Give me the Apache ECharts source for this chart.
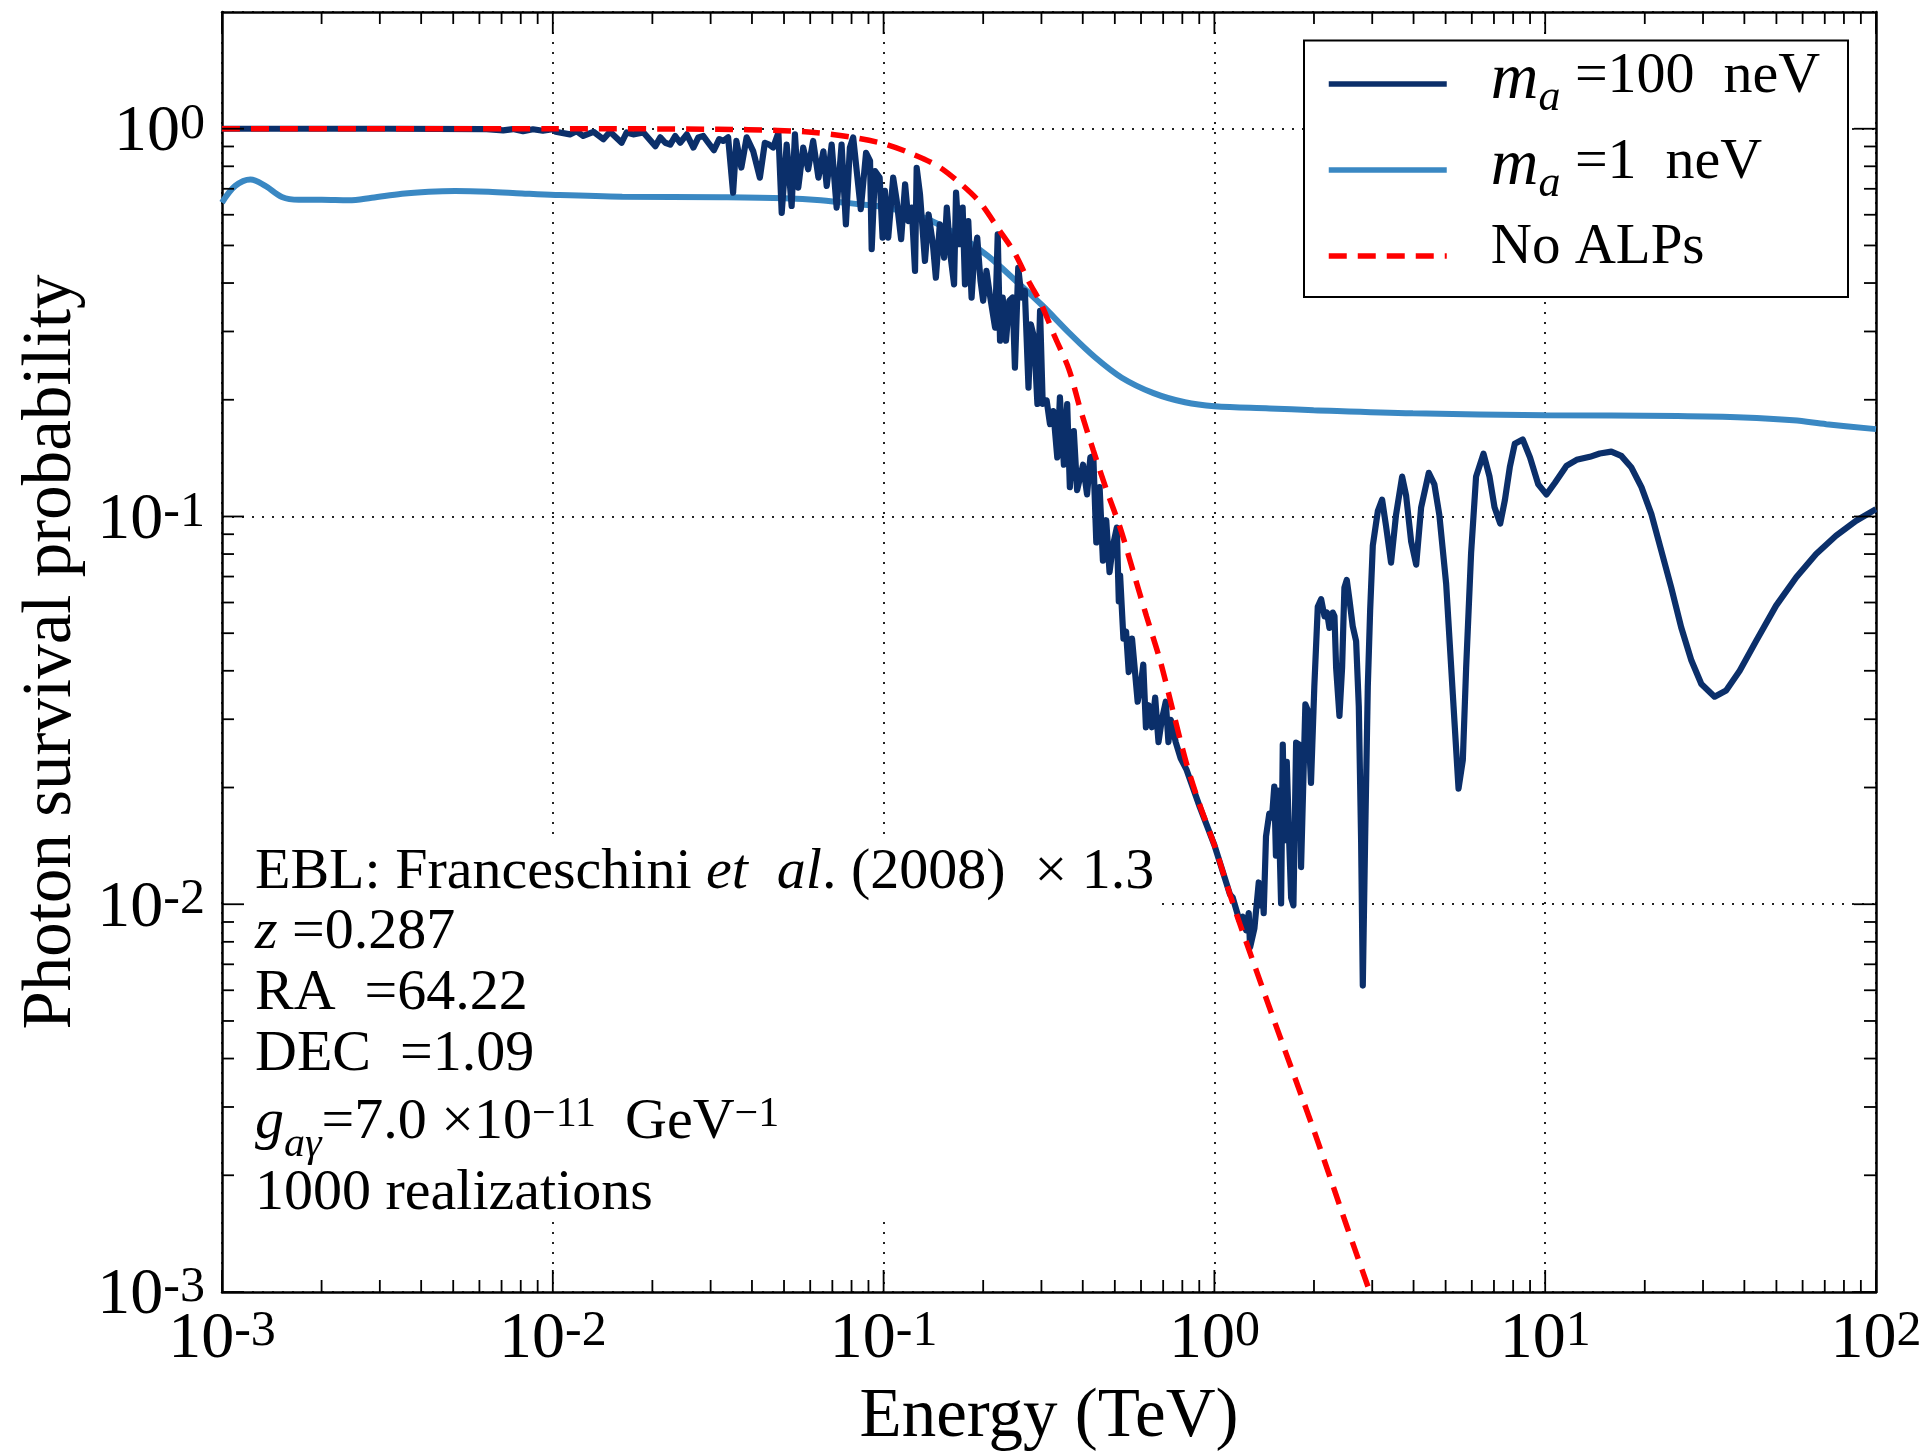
<!DOCTYPE html>
<html>
<head>
<meta charset="utf-8">
<script src="https://cdn.jsdelivr.net/npm/echarts@6/dist/echarts.min.js"></script>
<style>
  html, body { margin: 0; padding: 0; background: #fff; }
  #chart { width: 1925px; height: 1451px; }
</style>
</head>
<body>
<div id="chart"></div>
<script>
// Photon survival probability versus energy.
// Each point is [log10(E / TeV), probability].

const curve100neV = [
  [-3.0, 1.0], [-2.5, 1.0], [-2.2, 0.998], [-2.15, 0.99], [-2.12, 0.998], [-2.09, 0.985],
  [-2.06, 0.997], [-2.03, 0.988], [-2.0, 0.997], [-1.9915, 0.982], [-1.948, 0.967], [-1.928, 0.985],
  [-1.908, 0.958], [-1.877, 0.982], [-1.847, 0.939], [-1.827, 0.982], [-1.792, 0.92], [-1.777, 0.978],
  [-1.757, 0.967], [-1.726, 0.978], [-1.69, 0.902], [-1.675, 0.95], [-1.66, 0.92], [-1.645, 0.91],
  [-1.63, 0.958], [-1.615, 0.92], [-1.595, 0.967], [-1.575, 0.894], [-1.56, 0.95], [-1.545, 0.958],
  [-1.53, 0.92], [-1.513, 0.88], [-1.497, 0.94], [-1.485, 0.93], [-1.47, 0.95], [-1.455, 0.684],
  [-1.445, 0.93], [-1.43, 0.794], [-1.414, 0.95], [-1.394, 0.874], [-1.374, 0.748], [-1.359, 0.92],
  [-1.346, 0.91], [-1.334, 0.894], [-1.318, 0.976], [-1.308, 0.607], [-1.293, 0.91], [-1.278, 0.632],
  [-1.268, 0.967], [-1.258, 0.705], [-1.243, 0.894], [-1.228, 0.786], [-1.213, 0.93], [-1.197, 0.748],
  [-1.182, 0.874], [-1.172, 0.712], [-1.157, 0.91], [-1.142, 0.626], [-1.127, 0.91], [-1.114, 0.567],
  [-1.102, 0.894], [-1.092, 0.95], [-1.069, 0.62], [-1.053, 0.867], [-1.041, 0.826], [-1.036, 0.489],
  [-1.026, 0.778], [-1.012, 0.748], [-1.003, 0.524], [-0.996, 0.691], [-0.986, 0.524], [-0.971, 0.748],
  [-0.961, 0.658], [-0.947, 0.519], [-0.935, 0.719], [-0.925, 0.578], [-0.915, 0.626], [-0.905, 0.43],
  [-0.9, 0.793], [-0.89, 0.678], [-0.875, 0.456], [-0.864, 0.601], [-0.851, 0.504], [-0.842, 0.413],
  [-0.83, 0.567], [-0.817, 0.465], [-0.809, 0.626], [-0.797, 0.465], [-0.787, 0.397], [-0.781, 0.684],
  [-0.771, 0.504], [-0.761, 0.626], [-0.754, 0.397], [-0.744, 0.578], [-0.734, 0.367], [-0.727, 0.456],
  [-0.717, 0.524], [-0.707, 0.405], [-0.699, 0.36], [-0.689, 0.43], [-0.679, 0.374], [-0.663, 0.307],
  [-0.655, 0.534], [-0.648, 0.284], [-0.64, 0.367], [-0.63, 0.284], [-0.62, 0.36], [-0.61, 0.367],
  [-0.603, 0.242], [-0.593, 0.438], [-0.583, 0.367], [-0.573, 0.382], [-0.562, 0.215], [-0.555, 0.313],
  [-0.545, 0.289], [-0.535, 0.195], [-0.527, 0.339], [-0.519, 0.195], [-0.507, 0.199], [-0.497, 0.173],
  [-0.487, 0.187], [-0.475, 0.142], [-0.467, 0.203], [-0.455, 0.136], [-0.445, 0.195], [-0.437, 0.119],
  [-0.425, 0.166], [-0.415, 0.117], [-0.397, 0.136], [-0.385, 0.114], [-0.375, 0.142], [-0.366, 0.143],
  [-0.357, 0.0857], [-0.347, 0.119], [-0.337, 0.0769], [-0.327, 0.0978], [-0.317, 0.0719], [-0.307, 0.0839],
  [-0.295, 0.0936], [-0.289, 0.0604], [-0.285, 0.0704], [-0.275, 0.0484], [-0.267, 0.0505], [-0.259, 0.0397],
  [-0.249, 0.0484], [-0.242, 0.0415], [-0.232, 0.0333], [-0.222, 0.0371], [-0.215, 0.0415], [-0.207, 0.0286],
  [-0.199, 0.0326], [-0.189, 0.0286], [-0.179, 0.0341], [-0.169, 0.0262], [-0.159, 0.0299], [-0.147, 0.0333],
  [-0.139, 0.0262], [-0.132, 0.0299], [-0.117, 0.0262], [-0.102, 0.0238], [-0.084, 0.0222], [-0.044, 0.0178],
  [0.0, 0.0142], [0.047, 0.0106], [0.0554, 0.0104], [0.0756, 0.00908], [0.0857, 0.00928], [0.0958, 0.00857],
  [0.1038, 0.00949], [0.1079, 0.00774], [0.121, 0.00867], [0.134, 0.01138], [0.139, 0.00993], [0.144, 0.01125],
  [0.149, 0.00949], [0.156, 0.01496], [0.166, 0.01714], [0.174, 0.01675], [0.181, 0.0201], [0.186, 0.01335],
  [0.1915, 0.01963], [0.1966, 0.01462], [0.2016, 0.01005], [0.2067, 0.02582], [0.2117, 0.01462], [0.2188, 0.02328],
  [0.2248, 0.01565], [0.2319, 0.0104], [0.2389, 0.00993], [0.247, 0.0261], [0.257, 0.0258], [0.262, 0.01247],
  [0.275, 0.03276], [0.282, 0.03166], [0.292, 0.02056], [0.302, 0.0363], [0.3125, 0.0585], [0.3226, 0.0612],
  [0.3327, 0.0553], [0.3407, 0.0565], [0.3478, 0.0516], [0.3579, 0.0565], [0.363, 0.0553], [0.368, 0.0407],
  [0.378, 0.0306], [0.386, 0.0407], [0.393, 0.0655], [0.4002, 0.0686], [0.408, 0.0612], [0.418, 0.0522],
  [0.4284, 0.0477], [0.4365, 0.0324], [0.4435, 0.0146], [0.4486, 0.00617], [0.4556, 0.0146], [0.4637, 0.0363],
  [0.4708, 0.0572], [0.4788, 0.0841], [0.494, 0.1032], [0.507, 0.1105], [0.519, 0.0943], [0.534, 0.076],
  [0.549, 0.1009], [0.5675, 0.1267], [0.5796, 0.1131], [0.5948, 0.0861], [0.61, 0.0751], [0.625, 0.1056],
  [0.648, 0.1296], [0.665, 0.121], [0.68, 0.1009], [0.7006, 0.067], [0.7208, 0.0347], [0.738, 0.01987],
  [0.751, 0.02355], [0.761, 0.0407], [0.776, 0.0804], [0.791, 0.1267], [0.8135, 0.1452], [0.8317, 0.1267],
  [0.8468, 0.1056], [0.864, 0.0959], [0.878, 0.11], [0.893, 0.134], [0.908, 0.154], [0.932, 0.158],
  [0.954, 0.142], [0.979, 0.121], [1.004, 0.114], [1.029, 0.122], [1.064, 0.135], [1.095, 0.14],
  [1.135, 0.1425], [1.165, 0.1453], [1.2, 0.147], [1.23, 0.1433], [1.26, 0.134], [1.291, 0.119],
  [1.321, 0.1014], [1.351, 0.0816], [1.381, 0.0656], [1.411, 0.0518], [1.442, 0.0425], [1.472, 0.037],
  [1.512, 0.0343], [1.547, 0.0356], [1.588, 0.04], [1.638, 0.0478], [1.698, 0.0589], [1.759, 0.0697],
  [1.819, 0.08], [1.879, 0.0892], [1.94, 0.0975], [2.0, 0.1045]
];

const curve1neV = [
  [-3.0, 0.645], [-2.96, 0.712], [-2.914, 0.74], [-2.869, 0.712], [-2.819, 0.667], [-2.768, 0.656],
  [-2.698, 0.656], [-2.617, 0.654], [-2.547, 0.664], [-2.456, 0.68], [-2.375, 0.688], [-2.295, 0.691],
  [-2.194, 0.688], [-2.093, 0.681], [-1.992, 0.675], [-1.79, 0.668], [-1.49, 0.666], [-1.3, 0.662],
  [-1.19, 0.654], [-1.07, 0.638], [-1.0, 0.628], [-0.89, 0.595], [-0.78, 0.535], [-0.685, 0.47],
  [-0.6, 0.405], [-0.52, 0.35], [-0.44, 0.298], [-0.36, 0.257], [-0.28, 0.228], [-0.184, 0.208],
  [-0.089, 0.197], [0.0, 0.1925], [0.167, 0.19], [0.3, 0.188], [0.6, 0.1845], [1.0, 0.1825],
  [1.4, 0.1815], [1.6, 0.18], [1.75, 0.177], [1.85, 0.173], [2.0, 0.168]
];

const curveNoALPs = [
  [-3.0, 1.0], [-2.0, 1.0], [-1.5, 0.997], [-1.32, 0.99], [-1.21, 0.978], [-1.1, 0.952],
  [-1.0, 0.915], [-0.919, 0.865], [-0.835, 0.8], [-0.766, 0.72], [-0.709, 0.646], [-0.652, 0.55],
  [-0.605, 0.48], [-0.56, 0.402], [-0.524, 0.354], [-0.484, 0.293], [-0.44, 0.24], [-0.406, 0.19],
  [-0.366, 0.148], [-0.326, 0.117], [-0.285, 0.0936], [-0.245, 0.0719], [-0.205, 0.0552], [-0.164, 0.0425],
  [-0.124, 0.0312], [-0.084, 0.023], [-0.044, 0.018], [0.0, 0.0142], [0.047, 0.0106], [0.077, 0.0089],
  [0.176, 0.00514], [0.3, 0.00262], [0.4, 0.00148], [0.47, 0.001], [0.55, 0.00064]
];

const seriesNames = ['m_a =100 neV', 'm_a =1 neV', 'No ALPs'];
const seriesColors = ['#0b2f6a', '#3a88c3', '#ff0000'];

// Tick positions (decade exponents and minor-tick mantissas)
const xMajorExponents = [-3, -2, -1, 0, 1, 2];
const yMajorExponents = [-3, -2, -1, 0];
const xMinorDecades = [-3, -2, -1, 0, 1];
const yMinorDecades = [-3, -2, -1];
const minorMantissas = [2, 3, 4, 5, 6, 7, 8, 9];

const SERIF = "'Liberation Serif', 'Times New Roman', 'DejaVu Serif', serif";

const toPoints = (arr) => arr.map(([le, p]) => [Math.pow(10, le), p]);

// tick marks: [x, y, kind (0 = x-axis, 1 = y-axis), major flag]
const tickData = [];
xMajorExponents.forEach(e => tickData.push([Math.pow(10, e), 1, 0, 1]));
yMajorExponents.forEach(e => tickData.push([1, Math.pow(10, e), 1, 1]));
xMinorDecades.forEach(e => minorMantissas.forEach(m => tickData.push([m * Math.pow(10, e), 1, 0, 0])));
yMinorDecades.forEach(e => minorMantissas.forEach(m => tickData.push([1, m * Math.pow(10, e), 1, 0])));

const tickRich = {
  b: { fontFamily: SERIF, fontSize: 66, lineHeight: 80, verticalAlign: 'top', color: '#000' },
  s: { fontFamily: SERIF, fontSize: 50, lineHeight: 34, verticalAlign: 'top', color: '#000' }
};
const powerLabel = (v) => '{b|10}{s|' + Math.round(Math.log10(v)) + '}';

const textRich = {
  r: { fontFamily: SERIF, fontSize: 58, lineHeight: 72, verticalAlign: 'top', color: '#000' },
  i: { fontFamily: SERIF, fontSize: 58, fontStyle: 'italic', lineHeight: 72, verticalAlign: 'top', color: '#000' },
  sup: { fontFamily: SERIF, fontSize: 42, lineHeight: 38, verticalAlign: 'top', color: '#000' },
  sub: { fontFamily: SERIF, fontSize: 42, fontStyle: 'italic', lineHeight: 32, verticalAlign: 'bottom', color: '#000' }
};

const legendRich = {
  m: { fontFamily: SERIF, fontSize: 66, fontStyle: 'italic', lineHeight: 72, verticalAlign: 'top', color: '#000', padding: [0, 0, 0, 39] },
  a: { fontFamily: SERIF, fontSize: 44, fontStyle: 'italic', lineHeight: 26, verticalAlign: 'bottom', color: '#000' },
  r: { fontFamily: SERIF, fontSize: 58, lineHeight: 72, verticalAlign: 'top', color: '#000' },
  p: { fontFamily: SERIF, fontSize: 57, lineHeight: 72, verticalAlign: 'top', color: '#000', padding: [0, 0, 0, 39] }
};
const legendLabels = {
  'm_a =100 neV': '{m|m}{a|a}{r| =100  neV}',
  'm_a =1 neV': '{m|m}{a|a}{r| =1  neV}',
  'No ALPs': '{p|No ALPs}'
};

// annotation block: [rich text, baseline y]
const annotationLines = [
  ['{r|EBL: Franceschini }{i|et  al}{r|. (2008)  × 1.3}', 899],
  ['{i|z}{r| =0.287}', 959],
  ['{r|RA  =64.22}', 1020],
  ['{r|DEC  =1.09}', 1081],
  ['{i|g}{sub|aγ}{r|=7.0 ×10}{sup|−11}{r|  GeV}{sup|−1}', 1149],
  ['{r|1000 realizations}', 1220]
];

function renderTicks(params, api) {
  const cs = params.coordSys;
  const kind = api.value(2);
  const len = api.value(3) ? 22 : 12;
  const style = { stroke: '#000', lineWidth: 1.8 };
  if (kind === 0) {
    const px = api.coord([api.value(0), 1])[0];
    const yb = cs.y + cs.height, yt = cs.y;
    return { type: 'group', children: [
      { type: 'line', shape: { x1: px, y1: yb, x2: px, y2: yb - len }, style },
      { type: 'line', shape: { x1: px, y1: yt, x2: px, y2: yt + len }, style }
    ] };
  }
  const py = api.coord([1, api.value(1)])[1];
  const xl = cs.x, xr = cs.x + cs.width;
  return { type: 'group', children: [
    { type: 'line', shape: { x1: xl, y1: py, x2: xl + len, y2: py }, style },
    { type: 'line', shape: { x1: xr, y1: py, x2: xr - len, y2: py }, style }
  ] };
}

const axisLineStyle = { show: true, lineStyle: { color: '#000', width: 2.5 } };
const gridDots = { show: true, lineStyle: { color: '#222', width: 2, type: [2, 8] } };

const chart = echarts.init(document.getElementById('chart'), null, { renderer: 'canvas' });

chart.setOption({
  animation: false,
  backgroundColor: '#fff',
  grid: { left: 222, right: 49, top: 12, bottom: 159, containLabel: false, outerBoundsMode: 'none' },
  xAxis: [
    {
      type: 'log', logBase: 10, min: 0.001, max: 100, position: 'bottom',
      axisLine: axisLineStyle, axisTick: { show: false }, splitLine: gridDots,
      axisLabel: { formatter: powerLabel, rich: tickRich, margin: 15 },
      name: 'Energy (TeV)', nameLocation: 'middle', nameGap: 91,
      nameTextStyle: { fontFamily: SERIF, fontSize: 69, color: '#000' }
    },
    {
      type: 'log', logBase: 10, min: 0.001, max: 100, position: 'top',
      axisLine: axisLineStyle, axisTick: { show: false }, splitLine: { show: false },
      axisLabel: { show: false }
    }
  ],
  yAxis: [
    {
      type: 'log', logBase: 10, min: 0.001, max: 2, position: 'left',
      axisLine: axisLineStyle, axisTick: { show: false }, splitLine: gridDots,
      axisLabel: { formatter: powerLabel, rich: tickRich, margin: 17, padding: [22, 0, 0, 0], showMaxLabel: false },
      name: 'Photon survival probability', nameLocation: 'middle', nameGap: 134, nameRotate: 90,
      nameTextStyle: { fontFamily: SERIF, fontSize: 69, color: '#000' }
    },
    {
      type: 'log', logBase: 10, min: 0.001, max: 2, position: 'right',
      axisLine: axisLineStyle, axisTick: { show: false }, splitLine: { show: false },
      axisLabel: { show: false }
    }
  ],
  legend: {
    orient: 'vertical', left: 1326, top: 48, padding: 0,
    itemWidth: 118, itemHeight: 20, itemGap: 14,
    selectedMode: false,
    data: seriesNames,
    formatter: (name) => legendLabels[name],
    textStyle: { rich: legendRich },
    itemStyle: { opacity: 0, borderWidth: 0 },
    lineStyle: { width: 5.5 },
    z: 8
  },
  graphic: [
    { type: 'rect', z: 1, shape: { x: 1304, y: 40.5, width: 544, height: 256.5 },
      style: { fill: '#fff', stroke: '#000', lineWidth: 2 } },
    { type: 'rect', z: 1, shape: { x: 224, y: 837, width: 936, height: 380 },
      style: { fill: '#fff' } }
  ].concat(annotationLines.map(([txt, base]) => ({
    type: 'text', z: 7, x: 255, y: base - 55,
    style: { text: txt, rich: textRich, align: 'left', verticalAlign: 'top', fill: '#000' }
  }))),
  series: [
    {
      name: seriesNames[0], type: 'line', data: toPoints(curve100neV),
      showSymbol: false, symbol: 'none', z: 4,
      lineStyle: { color: seriesColors[0], width: 6.2, join: 'round' },
      itemStyle: { color: seriesColors[0] }
    },
    {
      name: seriesNames[1], type: 'line', data: toPoints(curve1neV),
      showSymbol: false, symbol: 'none', smooth: 0.35, z: 3,
      lineStyle: { color: seriesColors[1], width: 6 },
      itemStyle: { color: seriesColors[1] }
    },
    {
      name: seriesNames[2], type: 'line', data: toPoints(curveNoALPs),
      showSymbol: false, symbol: 'none', smooth: 0.3, z: 5,
      lineStyle: { color: seriesColors[2], width: 5.5, type: [18, 11] },
      itemStyle: { color: seriesColors[2] }
    },
    {
      type: 'custom', data: tickData, renderItem: renderTicks, z: 6, silent: true,
      encode: { x: 0, y: 1 }
    }
  ]
});
</script>
</body>
</html>
